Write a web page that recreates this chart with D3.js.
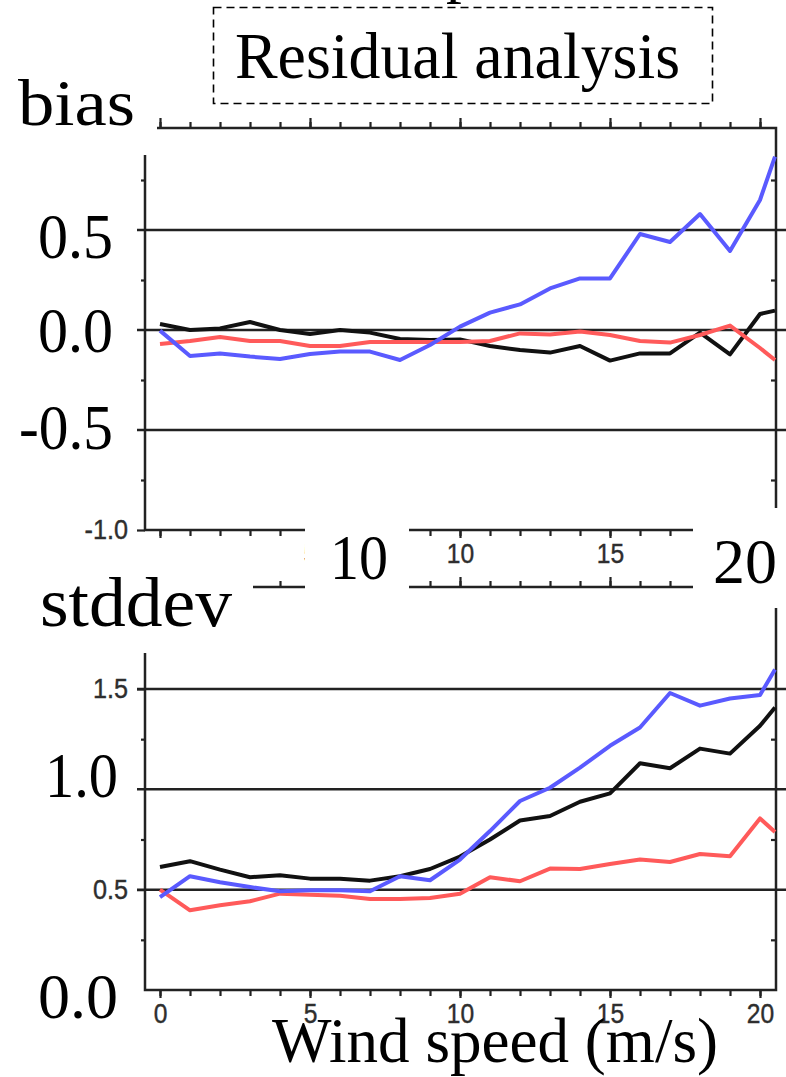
<!DOCTYPE html>
<html><head><meta charset="utf-8">
<script src="https://cdn.jsdelivr.net/npm/d3@7"></script>
<style>body{margin:0;background:#fff}svg{display:block}</style>
</head><body><svg id="c" width="786" height="1077"></svg>
<script>
// ---- data ----
const windSpeed = [0,1,2,3,4,5,6,7,8,9,10,11,12,13,14,15,16,17,18,19,20,20.5];
const biasBlack = [0.03,0.0,0.008,0.04,0.0,-0.02,0.0,-0.013,-0.045,-0.05,-0.047,-0.08,-0.1,-0.113,-0.08,-0.153,-0.117,-0.117,-0.013,-0.122,0.08,0.097];
const biasRed   = [-0.07,-0.055,-0.035,-0.055,-0.055,-0.08,-0.08,-0.06,-0.06,-0.06,-0.06,-0.055,-0.017,-0.022,-0.008,-0.025,-0.055,-0.063,-0.025,0.022,-0.09,-0.15];
const biasBlue  = [-0.003,-0.13,-0.117,-0.133,-0.145,-0.12,-0.108,-0.108,-0.15,-0.075,0.017,0.087,0.128,0.208,0.258,0.258,0.48,0.44,0.58,0.395,0.65,0.867];
const stdBlack  = [0.613,0.642,0.6,0.562,0.572,0.555,0.555,0.545,0.567,0.603,0.665,0.75,0.845,0.867,0.938,0.98,1.13,1.105,1.203,1.178,1.317,1.408];
const stdRed    = [0.5,0.397,0.422,0.442,0.48,0.475,0.47,0.453,0.453,0.458,0.48,0.562,0.542,0.605,0.603,0.628,0.65,0.638,0.678,0.667,0.855,0.787];
const stdBlue   = [0.463,0.567,0.537,0.513,0.492,0.497,0.497,0.492,0.567,0.547,0.65,0.792,0.942,1.008,1.108,1.217,1.308,1.48,1.417,1.453,1.47,1.597];
const xTicksMinor = d3.range(0,21,1);
const xTicksMajor = [0,5,10,15,20];
const biasXLabels = [5,10,15];
const stdXLabels = [0,5,10,15,20];
const biasGrid = [0.5,0.0,-0.5];
const biasMinor = [0.75,0.25,-0.25,-0.75];
const biasSmallLabels = [-1.0];
const stdGrid = [1.5,1.0,0.5];
const stdMinor = [1.25,0.75,0.25];
const stdSmallLabels = [1.5,0.5];
const seriesColors = ["#111111","#ff5a5a","#5a5aff"];

const svg = d3.select("#c");
const SERIF = "'Liberation Serif','Times New Roman',serif";
const SANS = "'Liberation Sans',Arial,sans-serif";
const AX = "#222";

const x = d3.scaleLinear().domain([0,20]).range([160,760]);
const yTop = d3.scaleLinear().domain([-1,0.5]).range([530,230]);
const yBot = d3.scaleLinear().domain([0,1.5]).range([990,689]);
const L = 145, R = 776;

function styleAxis(g){
  g.select(".domain").remove();
  g.selectAll("line").attr("stroke",AX).attr("stroke-width",2.2);
  g.selectAll("text").attr("fill","#2e2e2e").attr("font-family",SANS).attr("font-size",28)
    .attr("stroke","#2e2e2e").attr("stroke-width",0.4);
}

function drawPanel(y, frameTop, yMin, grid, minor, smallLabels, xLabels, data){
  const g = svg.append("g");
  const fb = y(yMin);
  // gridlines
  g.selectAll(".grid").data(grid).join("line")
    .attr("x1",137).attr("x2",786).attr("y1",d=>y(d)).attr("y2",d=>y(d))
    .attr("stroke",AX).attr("stroke-width",2.5);
  // frame
  g.append("path").attr("d",`M${L},${fb}H${R}V${frameTop}H${L}Z`)
    .attr("fill","none").attr("stroke",AX).attr("stroke-width",2.5);
  // top ticks (outward)
  g.append("g").attr("transform",`translate(0,${frameTop})`)
    .call(d3.axisTop(x).tickValues(xTicksMinor).tickSize(6).tickFormat("")).call(styleAxis);
  g.append("g").attr("transform",`translate(0,${frameTop})`)
    .call(d3.axisTop(x).tickValues(xTicksMajor).tickSize(10).tickFormat("")).call(styleAxis);
  // bottom ticks
  g.append("g").attr("transform",`translate(0,${fb})`)
    .call(d3.axisBottom(x).tickValues(xTicksMinor).tickSize(6).tickFormat("")).call(styleAxis);
  g.append("g").attr("transform",`translate(0,${fb})`)
    .call(d3.axisBottom(x).tickValues(xTicksMajor).tickSize(8).tickFormat("")).call(styleAxis);
  g.append("g").attr("transform",`translate(0,${fb})`)
    .call(d3.axisBottom(x).tickValues(xLabels).tickSize(0).tickPadding(13).tickFormat(d3.format("d"))).call(styleAxis)
    .selectAll("text").attr("transform","scale(0.88,1)");
  // left ticks
  g.append("g").attr("transform",`translate(${L},0)`)
    .call(d3.axisLeft(y).tickValues(minor).tickSize(4).tickFormat("")).call(styleAxis);
  g.append("g").attr("transform",`translate(${L},0)`)
    .call(d3.axisLeft(y).tickValues(smallLabels).tickSize(8).tickPadding(11).tickFormat(d=>d3.format(".1f")(d).replace("\u2212","-"))).call(styleAxis)
    .selectAll("text").attr("transform","scale(0.9,1)");
  // right ticks (inward)
  g.append("g").attr("transform",`translate(${R},0)`)
    .call(d3.axisRight(y).tickValues(minor).tickSize(-5).tickFormat("")).call(styleAxis);
  // series
  const line = d3.line().x((d,i)=>x(windSpeed[i])).y(d=>y(d));
  data.forEach((s,i)=>{
    g.append("path").attr("d",line(s)).attr("fill","none")
      .attr("stroke",seriesColors[i]).attr("stroke-width",4)
      .attr("stroke-linejoin","round");
  });
}

drawPanel(yTop, 128, -1, biasGrid, biasMinor, biasSmallLabels, biasXLabels, [biasBlack,biasRed,biasBlue]);
drawPanel(yBot, 587, 0, stdGrid, stdMinor, stdSmallLabels, stdXLabels, [stdBlack,stdRed,stdBlue]);

// white overlay boxes
const boxes = [[0,0,157,155],[0,540,253,113],[305,508,104,100],[693,508,93,100]];
svg.selectAll(".wb").data(boxes).join("rect")
  .attr("x",d=>d[0]).attr("y",d=>d[1]).attr("width",d=>d[2]).attr("height",d=>d[3]).attr("fill","#fff");

// title box
svg.append("rect").attr("x",213.5).attr("y",7.5).attr("width",499).attr("height",96)
  .attr("fill","#fff").attr("stroke","#000").attr("stroke-width",1.6).attr("stroke-dasharray","8,5");

// big serif texts: [text, x, baseline, width, size]
const bigTexts = [
  ["p",446,-10,null,63],
  ["Residual analysis",235,78,445,65],
  ["bias",18,125,117,66],
  ["0.5",38,258,75,64],
  ["0.0",38,352,75,64],
  ["-0.5",19,449,94,64],
  ["10",330,579,58,64],
  ["20",713,583,64,64],
  ["stddev",40,626,192,70],
  ["1.0",45,797,73,64],
  ["0.0",38,1018,80,64],
  ["Wind speed (m/s)",272,1062,446,63]
];
bigTexts.forEach(t=>{
  const el = svg.append("text").attr("x",t[1]).attr("y",t[2])
    .attr("font-family",SERIF).attr("font-size",t[4]).attr("fill","#000").text(t[0]);
  if(t[3]) el.attr("textLength",t[3]).attr("lengthAdjust","spacingAndGlyphs");
});
</script></body></html>
